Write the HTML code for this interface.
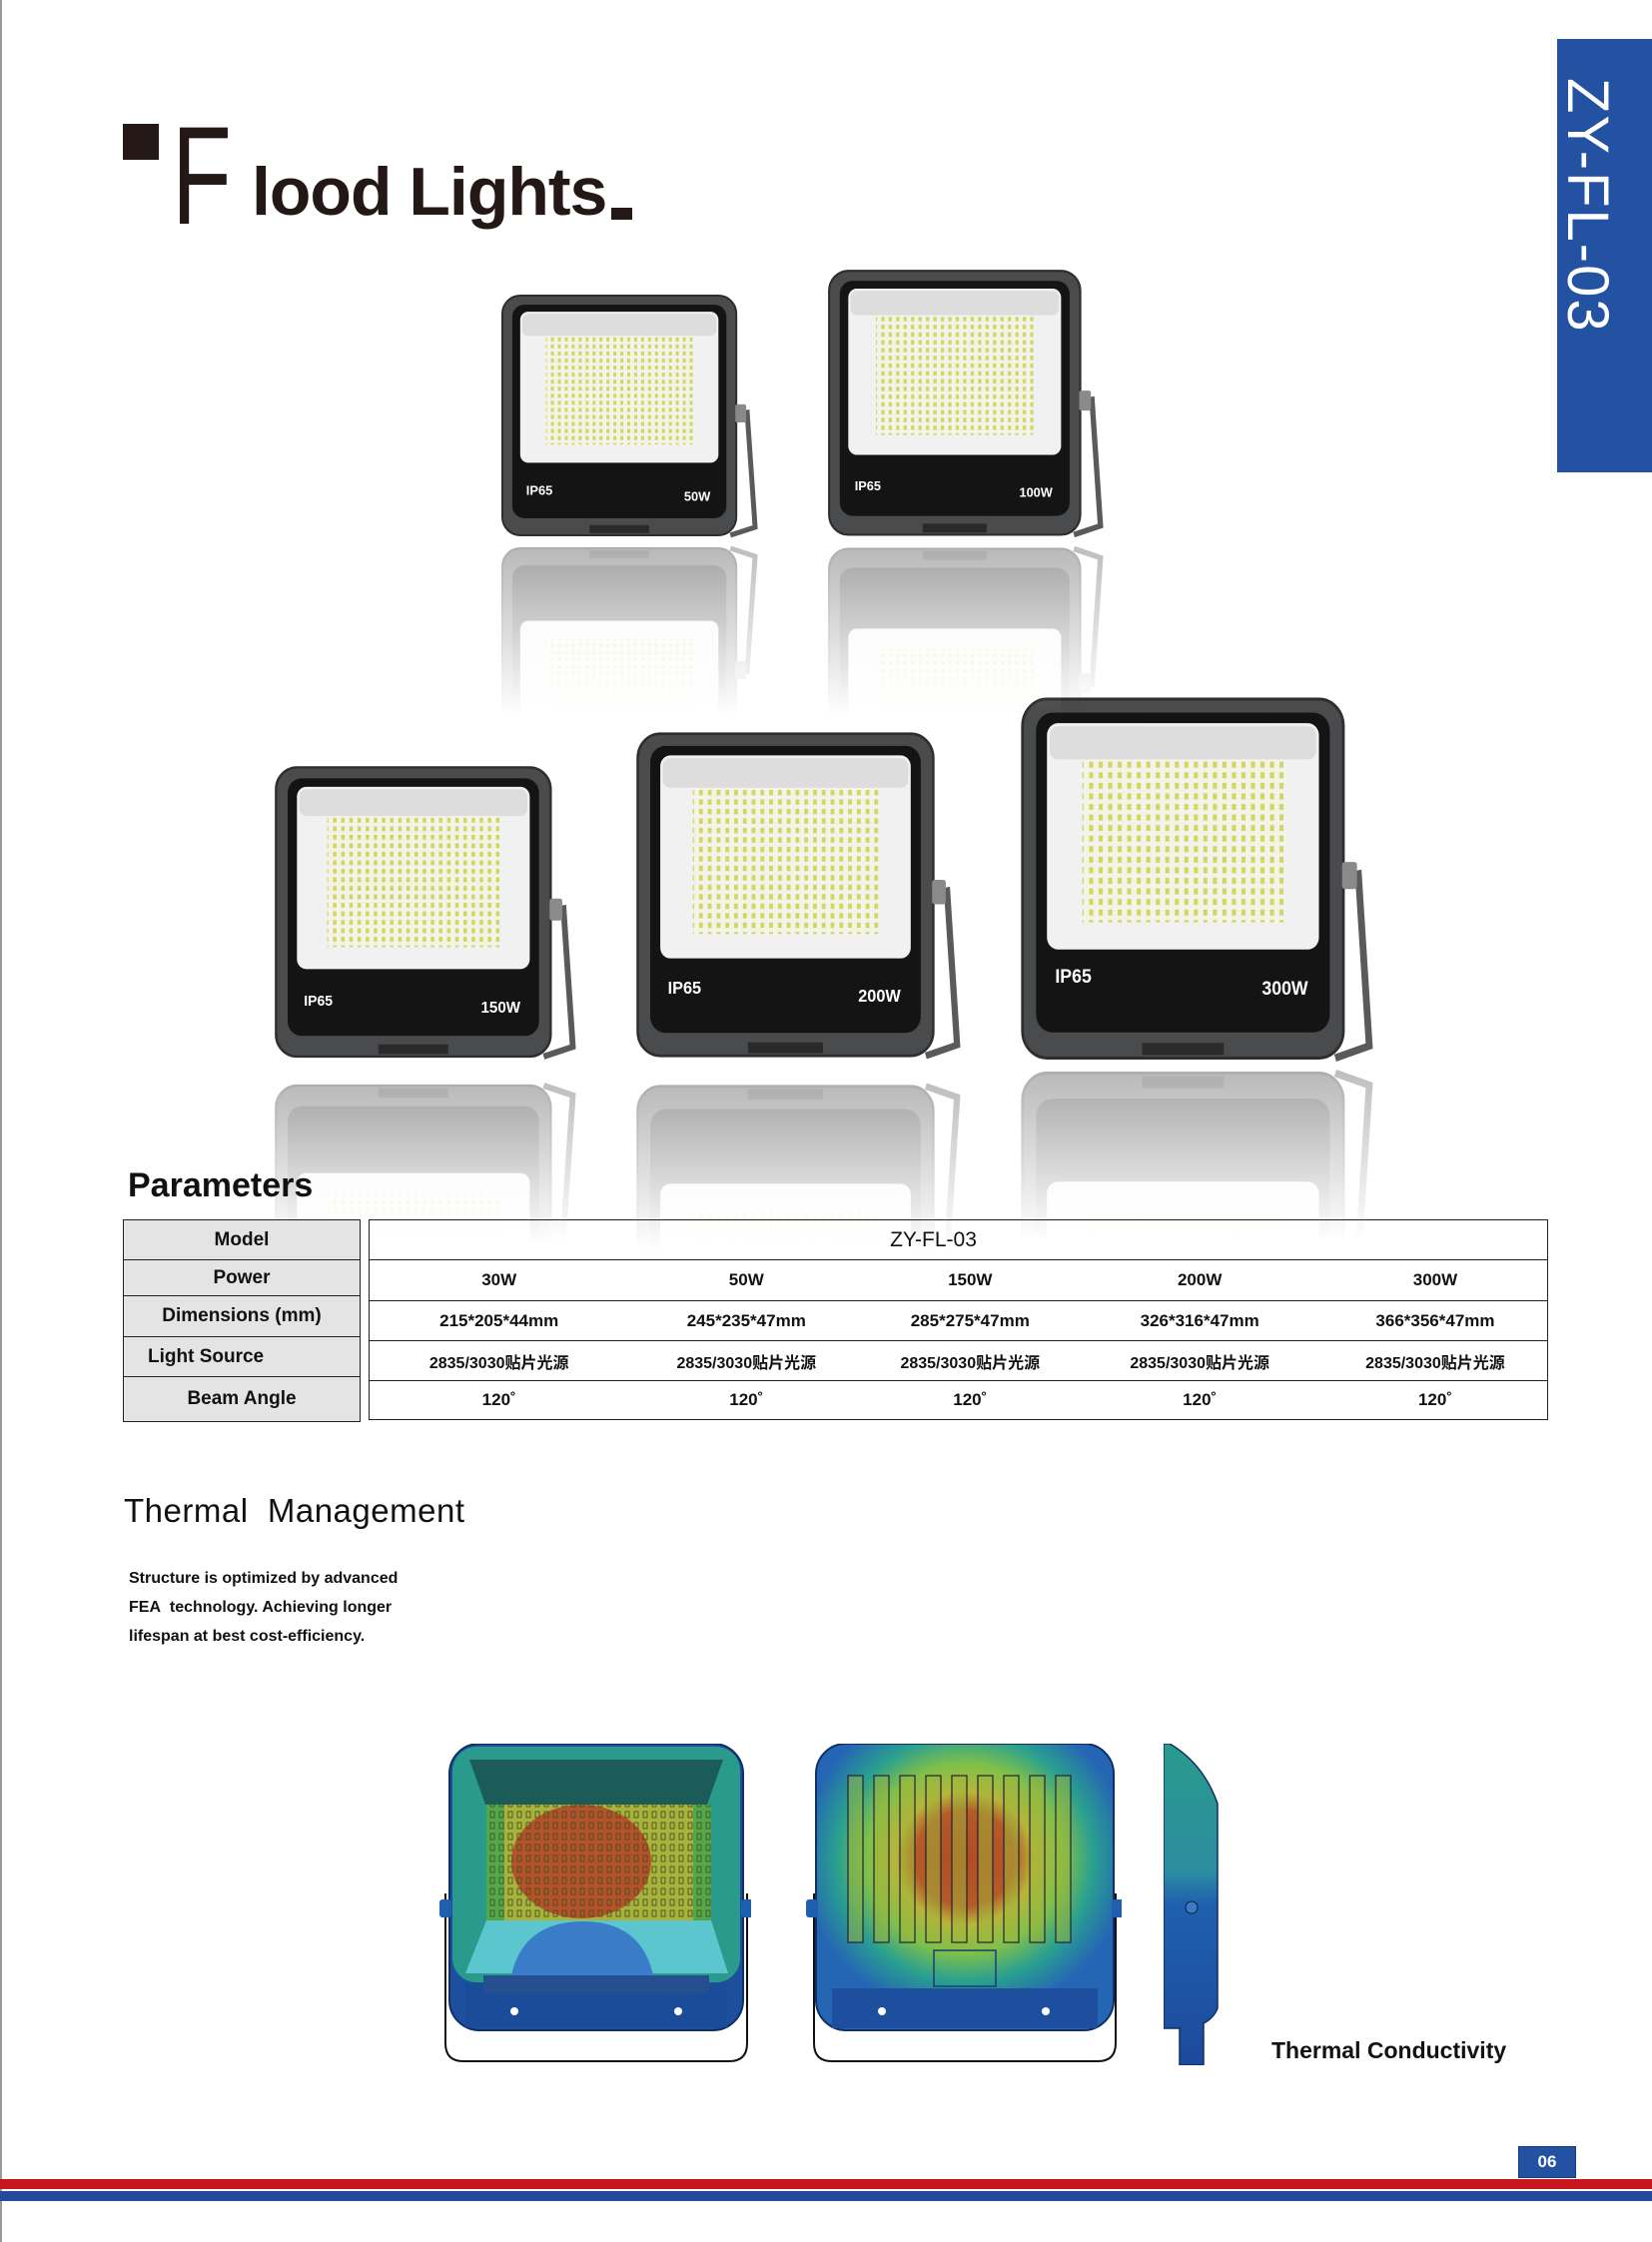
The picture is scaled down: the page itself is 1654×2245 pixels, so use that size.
<!DOCTYPE html>
<html><head><meta charset="utf-8">
<style>
html,body{margin:0;padding:0;background:#fff;}
body{width:1654px;height:2245px;position:relative;overflow:hidden;font-family:"Liberation Sans","Noto Sans CJK SC",sans-serif;color:#111;}
.abs{position:absolute;}
.refl{position:absolute;overflow:hidden;-webkit-mask-image:linear-gradient(to bottom,rgba(0,0,0,.4),rgba(0,0,0,0));mask-image:linear-gradient(to bottom,rgba(0,0,0,.4),rgba(0,0,0,0));}
.refl svg{transform:scaleY(-1);position:absolute;bottom:auto;}
.lab{position:absolute;left:123px;top:1221px;width:238px;}
.lab div{background:#e4e4e4;border:1.5px solid #222;border-top:none;box-sizing:border-box;font-weight:bold;font-size:19px;text-align:center;display:flex;align-items:center;justify-content:center;}
.val{position:absolute;left:369px;top:1221px;width:1181px;border:1.5px solid #222;box-sizing:border-box;}
.val .r{display:flex;border-bottom:1.5px solid #222;box-sizing:border-box;align-items:center;font-weight:bold;font-size:17px;}
.val .r:last-child{border-bottom:none;}
.val .c{width:20%;text-align:center;}
.val .c1{width:22%} .val .c2{width:20%} .val .c3{width:18%} .val .c4{width:21%} .val .c5{width:19%}
</style></head><body>
<div class="abs" style="left:0;top:0;width:2px;height:2245px;background:#9a9a9a"></div>

<svg width="0" height="0" style="position:absolute">
<defs>
<pattern id="led" patternUnits="userSpaceOnUse" width="7" height="7">
<rect width="7" height="7" fill="#f3f3ea"/><rect x="2" y="1.5" width="3" height="4" fill="#cfd85e"/>
</pattern>
<g id="lt">
<rect x="2" y="2" width="236" height="238" rx="18" fill="#4a4b4d" stroke="#2e2e2e" stroke-width="2"/>
<rect x="12" y="11" width="216" height="212" rx="12" fill="#141414"/>
<rect x="20" y="18" width="200" height="150" rx="8" fill="#f1f1f1"/>
<rect x="22" y="20" width="196" height="22" rx="6" fill="#dddddd"/>
<rect x="46" y="42" width="148" height="108" fill="url(#led)"/>
<rect x="90" y="230" width="60" height="8" fill="#2a2a2a"/>
<path d="M238 120 L249 118 L257 232 L232 240" stroke="#5a5a5a" stroke-width="5" fill="none"/>
<rect x="237" y="110" width="11" height="18" rx="2" fill="#8a8a8a"/>
</g>
</defs>
</svg>

<!-- Title -->
<div class="abs" style="left:123px;top:124px;width:36px;height:36px;background:#231815"></div>
<div class="abs" style="left:172px;top:106px;font-size:140px;line-height:1;color:#231815;transform:scaleX(0.7);transform-origin:left top;">F</div>
<div class="abs" style="left:252px;top:158px;font-size:68px;font-weight:bold;line-height:1;color:#231815;letter-spacing:-1px;">lood Lights</div>
<div class="abs" style="left:612px;top:208px;width:21px;height:12px;background:#231815"></div>

<!-- Blue band -->
<div class="abs" style="left:1559px;top:39px;width:95px;height:434px;background:#2352a3"></div>
<div class="abs" style="left:1592px;top:78px;width:0;height:0;">
<div style="position:absolute;left:0;top:0;transform:rotate(90deg);transform-origin:left top;white-space:nowrap;color:#fff;font-size:58px;line-height:1;margin-left:26px;letter-spacing:2px;">ZY-FL-03</div>
</div>

<!-- Lights -->
<svg class="abs" style="left:501px;top:294px" width="258" height="247" viewBox="0 0 260 245" preserveAspectRatio="none"><use href="#lt"/><text x="26" y="200" fill="#fff" font-size="13" font-weight="bold" font-family="Liberation Sans">IP65</text><text x="212" y="206" fill="#fff" font-size="13" font-weight="bold" text-anchor="end" font-family="Liberation Sans">50W</text></svg>
<svg class="abs" style="left:828px;top:269px" width="277" height="272" viewBox="0 0 260 245" preserveAspectRatio="none"><use href="#lt"/><text x="26" y="200" fill="#fff" font-size="12" font-weight="bold" font-family="Liberation Sans">IP65</text><text x="212" y="206" fill="#fff" font-size="12" font-weight="bold" text-anchor="end" font-family="Liberation Sans">100W</text></svg>
<svg class="abs" style="left:274px;top:766px" width="303" height="298" viewBox="0 0 260 245" preserveAspectRatio="none"><use href="#lt"/><text x="26" y="198" fill="#fff" font-size="12" font-weight="bold" font-family="Liberation Sans">IP65</text><text x="212" y="204" fill="#fff" font-size="13" font-weight="bold" text-anchor="end" font-family="Liberation Sans">150W</text></svg>
<svg class="abs" style="left:636px;top:732px" width="326" height="332" viewBox="0 0 260 245" preserveAspectRatio="none"><use href="#lt"/><text x="26" y="194" fill="#fff" font-size="13" font-weight="bold" font-family="Liberation Sans">IP65</text><text x="212" y="200" fill="#fff" font-size="13" font-weight="bold" text-anchor="end" font-family="Liberation Sans">200W</text></svg>
<svg class="abs" style="left:1021px;top:697px" width="354" height="370" viewBox="0 0 260 245" preserveAspectRatio="none"><use href="#lt"/><text x="26" y="190" fill="#fff" font-size="13" font-weight="bold" font-family="Liberation Sans">IP65</text><text x="212" y="198" fill="#fff" font-size="13" font-weight="bold" text-anchor="end" font-family="Liberation Sans">300W</text></svg>

<!-- Reflections -->
<div class="refl" style="left:501px;top:544px;width:258px;height:172px"><svg width="258" height="247" viewBox="0 0 260 245" preserveAspectRatio="none" style="top:0;left:0"><use href="#lt"/></svg></div>
<div class="refl" style="left:828px;top:544px;width:277px;height:172px"><svg width="277" height="272" viewBox="0 0 260 245" preserveAspectRatio="none" style="top:0;left:0"><use href="#lt"/></svg></div>
<div class="refl" style="left:274px;top:1081px;width:303px;height:165px"><svg width="303" height="298" viewBox="0 0 260 245" preserveAspectRatio="none" style="top:0;left:0"><use href="#lt"/></svg></div>
<div class="refl" style="left:636px;top:1081px;width:326px;height:170px"><svg width="326" height="332" viewBox="0 0 260 245" preserveAspectRatio="none" style="top:0;left:0"><use href="#lt"/></svg></div>
<div class="refl" style="left:1021px;top:1067px;width:354px;height:175px"><svg width="354" height="370" viewBox="0 0 260 245" preserveAspectRatio="none" style="top:0;left:0"><use href="#lt"/></svg></div>

<!-- Parameters -->
<div class="abs" style="left:128px;top:1170px;font-size:34px;font-weight:bold;line-height:1;">Parameters</div>
<div class="lab" style="border-top:1.5px solid #222;">
<div style="height:40px">Model</div>
<div style="height:36px">Power</div>
<div style="height:41px">Dimensions (mm)</div>
<div style="height:40px;justify-content:flex-start;padding-left:24px">Light Source</div>
<div style="height:45px">Beam Angle</div>
</div>
<div class="val">
<div class="r" style="height:40px;justify-content:center;font-size:21px;font-weight:normal;padding-right:50px">ZY-FL-03</div>
<div class="r" style="height:41px"><div class="c c1">30W</div><div class="c c2">50W</div><div class="c c3">150W</div><div class="c c4">200W</div><div class="c c5">300W</div></div>
<div class="r" style="height:40px"><div class="c c1">215*205*44mm</div><div class="c c2">245*235*47mm</div><div class="c c3">285*275*47mm</div><div class="c c4">326*316*47mm</div><div class="c c5">366*356*47mm</div></div>
<div class="r" style="height:40px;font-size:16px"><div class="c c1">2835/3030贴片光源</div><div class="c c2">2835/3030贴片光源</div><div class="c c3">2835/3030贴片光源</div><div class="c c4">2835/3030贴片光源</div><div class="c c5">2835/3030贴片光源</div></div>
<div class="r" style="height:38px"><div class="c c1">120˚</div><div class="c c2">120˚</div><div class="c c3">120˚</div><div class="c c4">120˚</div><div class="c c5">120˚</div></div>
</div>

<!-- Thermal -->
<div class="abs" style="left:124px;top:1496px;font-size:33px;line-height:1;letter-spacing:0.5px;">Thermal&nbsp; Management</div>
<div class="abs" style="left:129px;top:1566px;font-size:16px;font-weight:bold;line-height:29px;">Structure is optimized by advanced<br>FEA&nbsp; technology. Achieving longer<br>lifespan at best cost-efficiency.</div>

<svg class="abs" style="left:440px;top:1746px" width="312" height="322" viewBox="-4 0 312 322">
<defs><pattern id="sq" patternUnits="userSpaceOnUse" width="9" height="11"><rect x="2" y="2" width="4" height="6" fill="none" stroke="#3d4a20" stroke-width="0.8"/></pattern></defs>
<path d="M2 150 L2 300 Q2 318 20 318 L286 318 Q304 318 304 300 L304 150" stroke="#111" stroke-width="2" fill="none"/>
<rect x="6" y="0" width="294" height="287" rx="30" fill="#1d4f9e" stroke="#0f2f66" stroke-width="2"/>
<rect x="9" y="3" width="288" height="236" rx="24" fill="#2a9a8c"/>
<polygon points="26,16 280,16 264,61 42,61" fill="#1c5c58"/>
<rect x="43" y="61" width="225" height="116" fill="#a9b23a"/>
<rect x="43" y="61" width="18" height="116" fill="#55a84a"/><rect x="250" y="61" width="18" height="116" fill="#55a84a"/>
<ellipse cx="138" cy="118" rx="70" ry="57" fill="#b4532a"/>
<rect x="43" y="61" width="225" height="116" fill="url(#sq)"/>
<polygon points="43,177 268,177 285,230 22,230" fill="#5cc6cf"/>
<path d="M68 232 Q80 178 140 178 Q198 178 210 232 Z" fill="#3a7cc8"/>
<rect x="22" y="240" width="262" height="44" fill="#1b4c9a"/>
<rect x="40" y="232" width="226" height="18" fill="#264f90"/>
<circle cx="71" cy="268" r="4" fill="#fff"/><circle cx="235" cy="268" r="4" fill="#fff"/>
<rect x="-4" y="156" width="12" height="18" rx="3" fill="#1f5fb0"/><rect x="298" y="156" width="12" height="18" rx="3" fill="#1f5fb0"/>
</svg>

<svg class="abs" style="left:807px;top:1746px" width="316" height="322" viewBox="-4 0 316 322">
<defs><radialGradient id="hg" cx="0.5" cy="0.4" r="0.55"><stop offset="0" stop-color="#b04a24"/><stop offset="0.3" stop-color="#b45a28"/><stop offset="0.42" stop-color="#b7b53a"/><stop offset="0.6" stop-color="#7fc04a"/><stop offset="0.78" stop-color="#2aa08f"/><stop offset="1" stop-color="#2566b4"/></radialGradient></defs>
<path d="M4 150 L4 300 Q4 318 22 318 L288 318 Q306 318 306 300 L306 150" stroke="#111" stroke-width="2" fill="none"/>
<rect x="6" y="0" width="298" height="287" rx="30" fill="url(#hg)" stroke="#0f2f66" stroke-width="2"/>
<rect x="22" y="245" width="266" height="40" fill="#1d4f9e"/>
<g fill="#9fb63a" stroke="#223" stroke-width="1.2" fill-opacity="0.5">
<rect x="38" y="32" width="15" height="167"/><rect x="64" y="32" width="15" height="167"/><rect x="90" y="32" width="15" height="167"/><rect x="116" y="32" width="15" height="167"/><rect x="142" y="32" width="15" height="167"/><rect x="168" y="32" width="15" height="167"/><rect x="194" y="32" width="15" height="167"/><rect x="220" y="32" width="15" height="167"/><rect x="246" y="32" width="15" height="167"/>
</g>
<rect x="124" y="207" width="62" height="36" fill="none" stroke="#1b3d6a" stroke-width="1.5"/>
<circle cx="72" cy="268" r="4" fill="#fff"/><circle cx="236" cy="268" r="4" fill="#fff"/>
<rect x="-4" y="156" width="12" height="18" rx="3" fill="#1f5fb0"/><rect x="302" y="156" width="12" height="18" rx="3" fill="#1f5fb0"/>
</svg>

<svg class="abs" style="left:1165px;top:1746px" width="56" height="322" viewBox="0 0 56 322">
<defs><linearGradient id="sg" x1="0" y1="0" x2="0" y2="1"><stop offset="0" stop-color="#2a9a8c"/><stop offset="0.4" stop-color="#2b8da0"/><stop offset="0.5" stop-color="#1f5fb0"/><stop offset="1" stop-color="#1d4a9a"/></linearGradient></defs>
<path d="M0 0 L6 0 Q40 20 54 60 L54 265 Q50 275 40 280 L40 322 L16 322 L16 285 L0 285 Z" fill="url(#sg)" stroke="#0f2f66" stroke-width="1.5"/>
<circle cx="28" cy="164" r="6" fill="#3a7cc8" stroke="#123" stroke-width="1"/>
</svg>

<div class="abs" style="left:1273px;top:2042px;font-size:23px;font-weight:bold;line-height:1;">Thermal Conductivity</div>

<!-- Page number and bands -->
<div class="abs" style="left:1520px;top:2149px;width:56px;height:30px;background:#2352a3;border:1px solid #163a7a;color:#fff;font-weight:bold;font-size:17px;line-height:30px;text-align:center;">06</div>
<div class="abs" style="left:0;top:2182px;width:1654px;height:10px;background:#c8161e"></div>
<div class="abs" style="left:0;top:2194px;width:1654px;height:10px;background:#234b9c"></div>
</body></html>
